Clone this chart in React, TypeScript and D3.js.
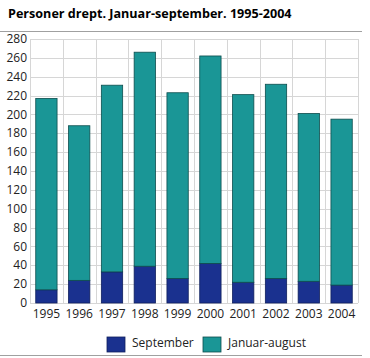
import { useEffect, useRef } from 'react';
import * as d3 from 'd3';

const years = ['1995', '1996', '1997', '1998', '1999', '2000', '2001', '2002', '2003', '2004'];
const september = [14, 24, 33, 39, 26, 42, 22, 26, 23, 19];
const januarAugust = [203, 164, 198, 227, 197, 220, 199, 206, 178, 176];
const yTicks = [0, 20, 40, 60, 80, 100, 120, 140, 160, 180, 200, 220, 240, 260, 280];

const seriesNames = ['September', 'Januar-august'];
const colors = ['#1a318f', '#1a9696'];
const strokes = ['#0f1f5c', '#0d4d4d'];

export default function App() {
  const ref = useRef<SVGSVGElement>(null);

  useEffect(() => {
    document.body.style.margin = '0';
    if (!ref.current) return;
    const svg = d3.select(ref.current);
    svg.selectAll('*').remove();

    const W = 370;
    const H = 358;
    const m = { left: 30, right: 12, top: 39, bottom: 55 };
    const font = 'Open Sans, DejaVu Sans, sans-serif';

    const x = d3.scaleBand<string>().domain(years).range([m.left, W - m.right]).paddingInner(0.35).paddingOuter(0.175);
    const xGrid = d3.scaleBand<string>().domain(years).range([m.left, W - m.right]);
    const y = d3.scaleLinear().domain([0, 280]).range([H - m.bottom, m.top]);

    // Title
    svg.append('text')
      .attr('x', 8).attr('y', 18)
      .attr('font-family', font).attr('font-size', '12.6px').attr('font-weight', 'bold')
      .attr('fill', '#000')
      .text('Personer drept. Januar-september. 1995-2004');

    svg.append('line')
      .attr('x1', 0).attr('x2', 362).attr('y1', 31.5).attr('y2', 31.5)
      .attr('stroke', '#a0a0a0').attr('stroke-width', 1);

    svg.append('line')
      .attr('x1', 0).attr('x2', 362).attr('y1', 355.5).attr('y2', 355.5)
      .attr('stroke', '#a0a0a0').attr('stroke-width', 1);

    // Grid
    const g = svg.append('g');
    yTicks.forEach((t) => {
      g.append('line')
        .attr('x1', m.left).attr('x2', W - m.right)
        .attr('y1', Math.round(y(t)) + 0.5).attr('y2', Math.round(y(t)) + 0.5)
        .attr('stroke', '#d6d6d6').attr('stroke-width', 1);
      g.append('text')
        .attr('x', m.left - 3).attr('y', y(t)).attr('dy', '0.35em')
        .attr('text-anchor', 'end')
        .attr('font-family', font).attr('font-size', '12px').attr('fill', '#222')
        .text(t);
    });
    years.forEach((yr) => {
      const gx = Math.round(xGrid(yr)!) + 0.5;
      g.append('line')
        .attr('x1', gx).attr('x2', gx).attr('y1', y(280)).attr('y2', y(0))
        .attr('stroke', '#d6d6d6').attr('stroke-width', 1);
    });
    g.append('line')
      .attr('x1', W - m.right + 0.5).attr('x2', W - m.right + 0.5).attr('y1', y(280)).attr('y2', y(0))
      .attr('stroke', '#d6d6d6').attr('stroke-width', 1);

    // Stacked bars
    const rows = years.map((yr, i) => ({ year: yr, September: september[i], 'Januar-august': januarAugust[i] }));
    const stack = d3.stack<any>().keys(seriesNames)(rows);

    stack.forEach((layer, li) => {
      svg.append('g').selectAll('rect')
        .data(layer)
        .join('rect')
        .attr('x', (d: any) => x(d.data.year)!)
        .attr('y', (d) => y(d[1]))
        .attr('width', x.bandwidth())
        .attr('height', (d) => y(d[0]) - y(d[1]))
        .attr('fill', colors[li])
        .attr('stroke', strokes[li])
        .attr('stroke-width', 0.8);
    });

    // X labels
    years.forEach((yr) => {
      svg.append('text')
        .attr('x', x(yr)! + x.bandwidth() / 2).attr('y', y(0) + 15)
        .attr('text-anchor', 'middle')
        .attr('font-family', font).attr('font-size', '12px').attr('fill', '#222')
        .text(yr);
    });

    // Legend
    const legendX = [107, 203];
    seriesNames.forEach((name, i) => {
      svg.append('rect')
        .attr('x', legendX[i]).attr('y', 337).attr('width', 18).attr('height', 15)
        .attr('fill', colors[i]).attr('stroke', strokes[i]).attr('stroke-width', 0.8);
      svg.append('text')
        .attr('x', legendX[i] + 25).attr('y', 347)
        .attr('font-family', font).attr('font-size', '12px').attr('fill', '#222')
        .text(name);
    });

    svg.attr('viewBox', `0 0 ${W} ${H}`);
  }, []);

  return <svg ref={ref} width={370} height={358} style={{ display: 'block' }} />;
}
